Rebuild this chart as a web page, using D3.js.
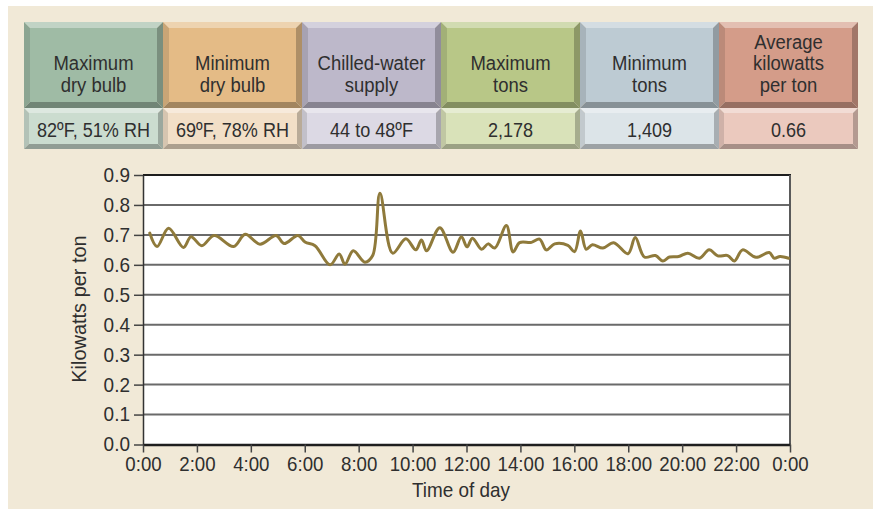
<!DOCTYPE html>
<html>
<head>
<meta charset="utf-8">
<script src="https://cdn.jsdelivr.net/npm/d3@7"></script>
<style>
  html, body { margin: 0; padding: 0; background: #ffffff; }
  svg { display: block; }
  text { font-family: "Liberation Sans", Arial, sans-serif; fill: #2f2f2f; }
</style>
</head>
<body>
<svg id="chart" width="879" height="512"></svg>
<script>
// Summary table
const headerLabels = [
  ["Maximum", "dry bulb"],
  ["Minimum", "dry bulb"],
  ["Chilled-water", "supply"],
  ["Maximum", "tons"],
  ["Minimum", "tons"],
  ["Average", "kilowatts", "per ton"]
];
const valueLabels = ["82ºF, 51% RH", "69ºF, 78% RH", "44 to 48ºF", "2,178", "1,409", "0.66"];
const headerColors = ["#9fbba5", "#e4bb86", "#bdb8ca", "#b8c787", "#bdcbd3", "#d49c89"];
const valueColors  = ["#cbdccf", "#f2dfc7", "#dcd9e4", "#d9e2b9", "#dce4e8", "#ebc9be"];

// Hourly efficiency trace
const hours = [0.25, 0.52, 0.95, 1.50, 1.78, 2.18, 2.64, 3.36, 3.79, 4.34, 4.94, 5.23, 5.75, 6.01,
  6.38, 6.94, 7.28, 7.49, 7.80, 8.23, 8.52, 8.79, 9.26, 9.75, 10.12, 10.33, 10.52, 11.01, 11.50,
  11.81, 12.02, 12.22, 12.56, 12.80, 13.05, 13.48, 13.73, 13.97, 14.41, 14.71, 14.96, 15.27,
  15.76, 16.01, 16.23, 16.44, 16.67, 17.06, 17.46, 17.99, 18.26, 18.60, 19.01, 19.28, 19.53,
  19.87, 20.21, 20.64, 21.00, 21.32, 21.69, 21.94, 22.24, 22.74, 23.23, 23.42, 23.63, 23.95];
const kwPerTon = [0.706, 0.661, 0.722, 0.658, 0.694, 0.664, 0.698, 0.661, 0.702, 0.669, 0.698,
  0.671, 0.698, 0.676, 0.664, 0.600, 0.636, 0.602, 0.647, 0.609, 0.631, 0.839, 0.639, 0.687,
  0.650, 0.683, 0.647, 0.724, 0.642, 0.694, 0.660, 0.689, 0.652, 0.670, 0.656, 0.731, 0.643,
  0.674, 0.675, 0.686, 0.650, 0.670, 0.665, 0.644, 0.713, 0.652, 0.667, 0.656, 0.674, 0.637,
  0.691, 0.626, 0.631, 0.613, 0.626, 0.628, 0.639, 0.622, 0.650, 0.630, 0.631, 0.613, 0.650,
  0.625, 0.641, 0.622, 0.628, 0.622];

const xTickValues = [0, 2, 4, 6, 8, 10, 12, 14, 16, 18, 20, 22, 24];
const xTickLabels = ["0:00", "2:00", "4:00", "6:00", "8:00", "10:00", "12:00", "14:00", "16:00",
  "18:00", "20:00", "22:00", "0:00"];
const yTickValues = [0, 0.1, 0.2, 0.3, 0.4, 0.5, 0.6, 0.7, 0.8, 0.9];

const svg = d3.select("#chart");

// Narrow the type horizontally to get a condensed sans face
function condense(sel, s) {
  sel.each(function () {
    const t = d3.select(this);
    const x0 = +(t.attr("x") || 0);
    t.attr("x", x0 / s).attr("transform", `scale(${s},1)`);
  });
}

// Beige panel
svg.append("rect").attr("x", 8).attr("y", 6).attr("width", 865).attr("height", 503)
  .attr("fill", "#f1e9d7");

// ---- Bevelled table ----
const table = { left: 24, right: 858, headTop: 22, headBottom: 108, valBottom: 149 };
const colX = d3.scaleBand().domain(d3.range(headerLabels.length))
  .range([table.left, table.right]).paddingInner(0).paddingOuter(0);

function bevelBox(g, x, y, w, h, face, b) {
  const c = d3.color(face);
  const top = d3.interpolateRgb(face, "#ffffff")(0.35);
  const left = c.darker(0.35).formatHex();
  const right = c.darker(0.75).formatHex();
  const bottom = c.darker(0.95).formatHex();
  const x2 = x + w, y2 = y + h;
  const poly = (pts, fill) => g.append("polygon")
    .attr("points", pts.map(p => p.join(",")).join(" ")).attr("fill", fill);
  poly([[x, y], [x2, y], [x2 - b, y + b], [x + b, y + b]], top);
  poly([[x, y], [x + b, y + b], [x + b, y2 - b], [x, y2]], left);
  poly([[x2, y], [x2, y2], [x2 - b, y2 - b], [x2 - b, y + b]], right);
  poly([[x, y2], [x + b, y2 - b], [x2 - b, y2 - b], [x2, y2]], bottom);
  g.append("rect").attr("x", x + b).attr("y", y + b).attr("width", w - 2 * b)
    .attr("height", h - 2 * b).attr("fill", face);
}

const tableG = svg.append("g");
headerLabels.forEach((lines, i) => {
  const x = colX(i), w = colX.bandwidth();
  const cell = tableG.append("g");
  bevelBox(cell, x, table.headTop, w, table.headBottom - table.headTop, headerColors[i], 6);
  bevelBox(cell, x, table.headBottom, w, table.valBottom - table.headBottom, valueColors[i], 5);
  const lastBaseline = 92;
  const head = cell.append("g").attr("transform", `translate(${x + w / 2},0) scale(0.88,1)`);
  const t = head.append("text").attr("text-anchor", "middle").attr("font-size", 21);
  lines.forEach((ln, j) => {
    t.append("tspan").attr("x", 0)
      .attr("y", lastBaseline - (lines.length - 1 - j) * 21.5).text(ln);
  });
  cell.append("g").attr("transform", `translate(${x + w / 2},0) scale(0.86,1)`)
    .append("text").attr("x", 0).attr("y", 137).attr("text-anchor", "middle")
    .attr("font-size", 21).text(valueLabels[i]);
});

// ---- Line chart ----
const plot = { left: 143, right: 790, top: 175, bottom: 444.5 };
const x = d3.scaleLinear().domain([0, 24]).range([plot.left, plot.right]);
const y = d3.scaleLinear().domain([0, 0.9]).range([plot.bottom, plot.top]);

svg.append("rect").attr("x", plot.left).attr("y", plot.top)
  .attr("width", plot.right - plot.left).attr("height", plot.bottom - plot.top)
  .attr("fill", "#ffffff");

// Horizontal gridlines
svg.append("g").selectAll("line")
  .data(yTickValues.filter(v => v > 0 && v < 0.9))
  .join("line")
  .attr("x1", plot.left).attr("x2", plot.right)
  .attr("y1", d => y(d)).attr("y2", d => y(d))
  .attr("stroke", "#6a6a6a").attr("stroke-width", 2);

// Frame: top and right
svg.append("line").attr("x1", plot.left).attr("x2", plot.right + 1)
  .attr("y1", plot.top).attr("y2", plot.top).attr("stroke", "#1e1e1e").attr("stroke-width", 2);
svg.append("line").attr("x1", plot.right).attr("x2", plot.right)
  .attr("y1", plot.top).attr("y2", plot.bottom).attr("stroke", "#5a5a5a").attr("stroke-width", 2);

// Data line
const line = d3.line()
  .x((d, i) => x(hours[i]))
  .y(d => y(d))
  .curve(d3.curveCatmullRom.alpha(0.5));
svg.append("path").datum(kwPerTon).attr("d", line)
  .attr("fill", "none").attr("stroke", "#8f7a3b").attr("stroke-width", 3)
  .attr("stroke-linejoin", "round").attr("stroke-linecap", "round");

// Axes
const yAxis = d3.axisLeft(y).tickValues(yTickValues).tickFormat(d3.format(".1f"))
  .tickSize(9).tickSizeOuter(0).tickPadding(4);
const yG = svg.append("g").attr("transform", `translate(${plot.left},0)`).call(yAxis);
yG.select(".domain").attr("stroke", "#333").attr("stroke-width", 1.5);
yG.selectAll(".tick line").attr("stroke", "#444").attr("stroke-width", 1.5);
yG.selectAll(".tick text").attr("font-size", 20).attr("fill", "#2f2f2f")
  .attr("font-family", null).call(condense, 0.95);

const xAxis = d3.axisBottom(x).tickValues(xTickValues).tickFormat((d, i) => xTickLabels[i])
  .tickSize(8).tickSizeOuter(0).tickPadding(4);
const xG = svg.append("g").attr("transform", `translate(0,${plot.bottom})`).call(xAxis);
xG.select(".domain").attr("stroke", "#1e1e1e").attr("stroke-width", 2.5);
xG.selectAll(".tick line").attr("stroke", "#444").attr("stroke-width", 1.5);
xG.selectAll(".tick text").attr("font-size", 21).attr("fill", "#2f2f2f")
  .attr("font-family", null).call(condense, 0.89);

// Axis titles
svg.append("text").attr("transform", "translate(86,309) rotate(-90) scale(0.95,1)")
  .attr("text-anchor", "middle").attr("font-size", 21).text("Kilowatts per ton");
svg.append("text").attr("transform", "translate(461,497) scale(0.9,1)")
  .attr("text-anchor", "middle").attr("font-size", 21).text("Time of day");
</script>
</body>
</html>
